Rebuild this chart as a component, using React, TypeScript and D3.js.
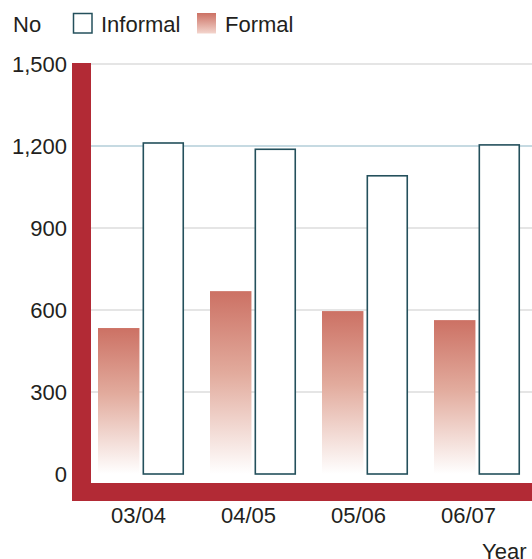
import React from "react";
import * as d3 from "d3";

// Yearly counts, formal vs informal
const years = ["03/04", "04/05", "05/06", "06/07"];
const formal = [534, 669, 596, 563];
const informal = [1211, 1188, 1091, 1204];
const yTicks = [0, 300, 600, 900, 1200, 1500];
const seriesKeys = ["Formal", "Informal"];

const W = 532;
const H = 559;
const FONT = "'Liberation Sans', Arial, Helvetica, sans-serif";
const FS = 22;
const TEXT = "#231f20";
const AXIS_RED = "#b22a35";
const OUTLINE = "#24505c";

export default function App() {
  const y = d3.scaleLinear().domain([0, 1500]).range([474, 64]);
  const x0 = d3.scaleBand<string>().domain(years).range([85, 533]).padding(0);
  const x1 = d3
    .scaleBand<string>()
    .domain(seriesKeys)
    .range([13, 99])
    .paddingInner(0.07)
    .paddingOuter(0);
  const xLabel = d3.scalePoint<string>().domain(years).range([138.5, 468.5]);

  return (
    <svg
      width={W}
      height={H}
      style={{ position: "absolute", left: 0, top: 0, display: "block", background: "#fff" }}
      fontFamily={FONT}
    >
      <defs>
        <linearGradient id="formalFill" x1="0" y1="0" x2="0" y2="1">
          <stop offset="0%" stopColor="#cc7164" />
          <stop offset="45%" stopColor="#e2ab9d" />
          <stop offset="100%" stopColor="#ffffff" />
        </linearGradient>
        <linearGradient id="formalKey" x1="0" y1="0" x2="0" y2="1">
          <stop offset="0%" stopColor="#cc7164" />
          <stop offset="100%" stopColor="#f3d5cd" />
        </linearGradient>
      </defs>

      {/* legend */}
      <text x={13} y={32} fontSize={FS} fill={TEXT}>No</text>
      <rect x={73.5} y={13.5} width={18.5} height={19.5} fill="#fff" stroke={OUTLINE} strokeWidth={1.5} />
      <text x={101} y={32} fontSize={FS} fill={TEXT}>Informal</text>
      <rect x={197} y={13} width={19} height={20.5} fill="url(#formalKey)" />
      <text x={225} y={32} fontSize={FS} fill={TEXT}>Formal</text>

      {/* gridlines */}
      {yTicks
        .filter((t) => t > 0)
        .map((t) => (
          <line
            key={t}
            x1={91}
            x2={W}
            y1={y(t)}
            y2={y(t)}
            stroke={t === 1200 ? "#b3ced8" : "#dcdcdc"}
            strokeWidth={1.5}
          />
        ))}

      {/* y tick labels */}
      {yTicks.map((t) => (
        <text
          key={t}
          x={67}
          y={y(t)}
          dy="0.36em"
          textAnchor="end"
          fontSize={FS}
          fill={TEXT}
        >
          {d3.format(",")(t)}
        </text>
      ))}

      {/* bars */}
      {years.map((yr, i) => {
        const bx = x0(yr)!;
        return (
          <g key={yr}>
            <rect
              x={bx + x1("Formal")!}
              y={y(formal[i])}
              width={x1.bandwidth()}
              height={y(0) - y(formal[i])}
              fill="url(#formalFill)"
            />
            <rect
              x={bx + x1("Informal")! + 0.75}
              y={y(informal[i])}
              width={x1.bandwidth() - 1.5}
              height={y(0) - y(informal[i])}
              fill="#fff"
              stroke={OUTLINE}
              strokeWidth={1.6}
            />
          </g>
        );
      })}

      {/* thick axis frame */}
      <rect x={72} y={63} width={19} height={438} fill={AXIS_RED} />
      <rect x={72} y={483} width={W - 72} height={18} fill={AXIS_RED} />

      {/* x labels */}
      {years.map((yr) => (
        <text
          key={yr}
          x={xLabel(yr)}
          y={523}
          textAnchor="middle"
          fontSize={FS}
          fill={TEXT}
        >
          {yr}
        </text>
      ))}
      <text x={482} y={559} fontSize={FS} fill={TEXT}>Year</text>
    </svg>
  );
}
